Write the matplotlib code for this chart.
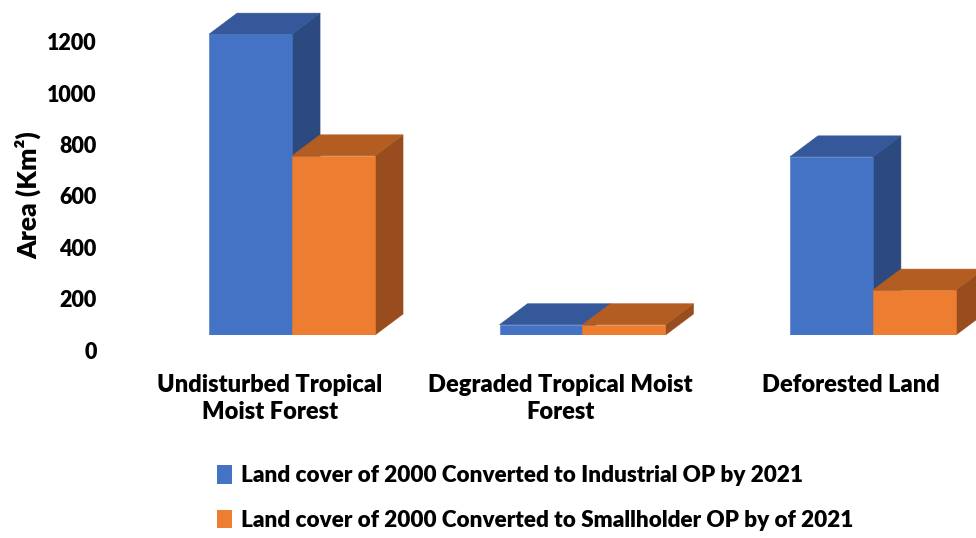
import matplotlib
matplotlib.use('Agg')
import matplotlib.pyplot as plt
import matplotlib.transforms as mtransforms
from matplotlib.patches import Polygon, Patch

categories = ['Undisturbed Tropical\nMoist Forest',
              'Degraded Tropical Moist\nForest',
              'Deforested Land']
industrial = [1172, 40, 694]
smallholder = [698, 40, 175]
series_labels = ['Land cover of 2000 Converted to Industrial OP by 2021',
                 'Land cover of 2000 Converted to Smallholder OP by of 2021']
y_ticks = [0, 200, 400, 600, 800, 1000, 1200]

# front / top / side shades for each series
FRONT = ['#4472C4', '#ED7D31']
TOP = ['#34589A', '#B35D22']
SIDE = ['#2C4A80', '#994C1D']

plt.rcParams['font.family'] = ['Lato', 'DejaVu Sans']
WEIGHT = 'heavy'

W, H, DPI = 976, 538, 100
fig = plt.figure(figsize=(W / DPI, H / DPI), dpi=DPI)
ax_rect = [0.1076, 0.3773, 0.8924, 0.6203]
ax = fig.add_axes(ax_rect)
xlim = (-0.644, 2.355)
ylim = (0, 1300)
ax.set_xlim(*xlim)
ax.set_ylim(*ylim)

# depth of the boxes, 28 px right and 21 px up, in data units
dx = 28 * (xlim[1] - xlim[0]) / (ax_rect[2] * W)
dy = 21 * (ylim[1] - ylim[0]) / (ax_rect[3] * H)
bar_w = 0.2857


def draw_box(x0, h, k):
    front = [(x0, 0), (x0 + bar_w, 0), (x0 + bar_w, h), (x0, h)]
    top = [(x0, h), (x0 + bar_w, h), (x0 + bar_w + dx, h + dy), (x0 + dx, h + dy)]
    side = [(x0 + bar_w, 0), (x0 + bar_w + dx, dy),
            (x0 + bar_w + dx, h + dy), (x0 + bar_w, h)]
    for pts, col in ((side, SIDE[k]), (front, FRONT[k]), (top, TOP[k])):
        ax.add_patch(Polygon(pts, closed=True, facecolor=col,
                             edgecolor=col, linewidth=0.4))


for i in range(len(categories)):
    draw_box(i - bar_w, industrial[i], 0)
    draw_box(i, smallholder[i], 1)

for s in ax.spines.values():
    s.set_visible(False)
ax.tick_params(length=0)

ax.set_yticks(y_ticks)
ax.set_yticklabels([str(t) for t in y_ticks], fontsize=15.5, fontweight=WEIGHT)
ax.tick_params(axis='y', pad=6)
shift_y = mtransforms.ScaledTranslation(0, -15 / DPI, fig.dpi_scale_trans)
for lab in ax.get_yticklabels():
    lab.set_transform(lab.get_transform() + shift_y)

ax.set_xticks(range(len(categories)))
ax.set_xticklabels(categories, fontsize=17, fontweight=WEIGHT, linespacing=1.27)
ax.tick_params(axis='x', pad=28)
shift_x = mtransforms.ScaledTranslation(-22 / DPI, 0, fig.dpi_scale_trans)
for lab in ax.get_xticklabels():
    lab.set_transform(lab.get_transform() + shift_x)

fig.text(28 / W, 1 - 195 / H, 'Area (Km²)', rotation=90, ha='center',
         va='center', fontsize=19, fontweight=WEIGHT)

handles = [Patch(facecolor=FRONT[0]), Patch(facecolor=FRONT[1])]
fig.legend(handles, series_labels, loc='center left',
           bbox_to_anchor=(197 / W, 1 - 498 / H), frameon=False,
           prop={'size': 16.2, 'weight': WEIGHT},
           handlelength=0.65, handleheight=0.9,
           handletextpad=0.4, labelspacing=1.05)

fig.savefig('out.png', dpi=DPI)
